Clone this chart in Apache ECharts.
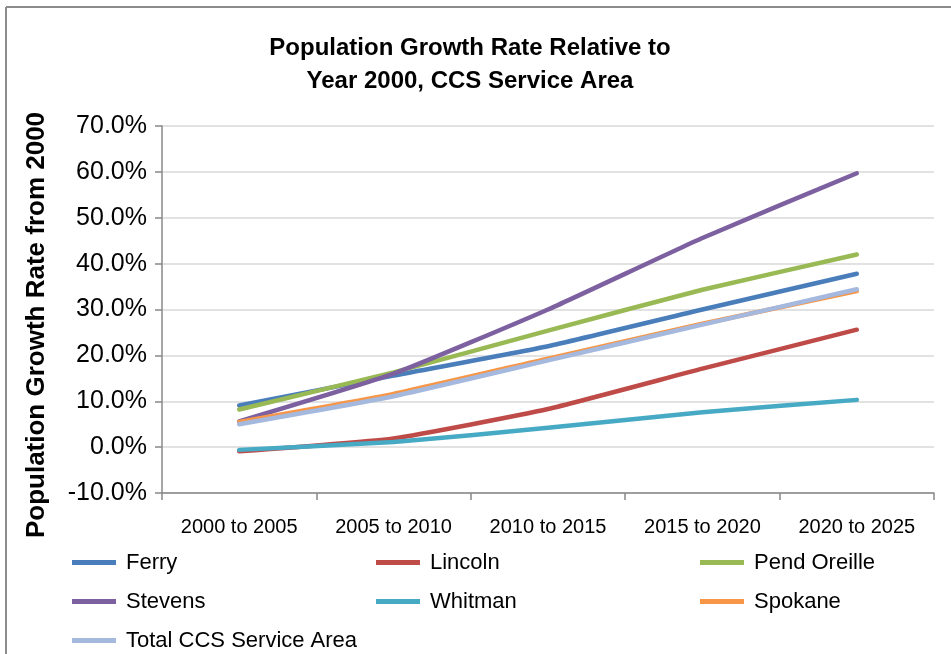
<!DOCTYPE html>
<html>
<head>
<meta charset="utf-8">
<script src="https://cdn.jsdelivr.net/npm/echarts@6/dist/echarts.min.js"></script>
<style>
  html, body { margin: 0; padding: 0; background: #ffffff; }
  #chart { width: 951px; height: 654px; }
</style>
</head>
<body>
<div id="chart"></div>
<script>
// Five-year periods on the category axis
const periods = ['2000 to 2005', '2005 to 2010', '2010 to 2015', '2015 to 2020', '2020 to 2025'];

// Cumulative growth relative to 2000, in percent
const ferry       = [9.1, 15.6, 22.0, 30.0, 37.8];
const lincoln     = [-0.9, 1.9, 8.3, 17.1, 25.6];
const pendOreille = [8.2, 16.3, 25.4, 34.3, 42.0];
const stevens     = [5.6, 16.0, 30.0, 45.6, 59.7];
const whitman     = [-0.6, 1.1, 4.2, 7.6, 10.3];
const spokane     = [5.5, 11.6, 19.3, 26.9, 34.0];
const totalCCS    = [5.0, 11.1, 18.9, 26.7, 34.4];

const yTicks = { min: -10, max: 70, step: 10 };

const FONT = '"Liberation Sans", Arial, sans-serif';

const seriesDefs = [
  { name: 'Ferry',        data: ferry,       color: '#4A7EBB', width: 4.5 },
  { name: 'Lincoln',      data: lincoln,     color: '#BE4B48', width: 4.5 },
  { name: 'Pend Oreille', data: pendOreille, color: '#98B954', width: 4.5 },
  { name: 'Stevens',      data: stevens,     color: '#7D60A0', width: 4.5 },
  { name: 'Whitman',      data: whitman,     color: '#46AAC5', width: 4.5 },
  { name: 'Spokane',      data: spokane,     color: '#F79646', width: 4.5 },
  { name: 'Total CCS Service Area', data: totalCCS, color: '#A5B8DD', width: 4.5 }
];

const legendBase = {
  orient: 'vertical',
  icon: 'rect',
  itemWidth: 44,
  itemHeight: 5,
  itemGap: 16,
  padding: 0,
  height: 140,
  textStyle: { fontFamily: FONT, fontSize: 22, color: '#000', lineHeight: 23, padding: [0, 0, 0, 5] },
  top: 551
};

const chart = echarts.init(document.getElementById('chart'), null, { renderer: 'canvas' });

chart.setOption({
  animation: false,
  backgroundColor: '#ffffff',
  title: {
    text: 'Population Growth Rate Relative to\nYear 2000, CCS Service Area',
    left: 465,
    top: 27,
    textAlign: 'center',
    textStyle: { fontFamily: FONT, fontSize: 24, fontWeight: 'bold', color: '#000', lineHeight: 33 }
  },
  grid: { left: 162, right: 17, top: 126, bottom: 161, containLabel: false },
  xAxis: {
    type: 'category',
    data: periods,
    boundaryGap: true,
    axisLine: { onZero: false, lineStyle: { color: '#888888', width: 1.5 } },
    axisTick: { show: true, length: 7, lineStyle: { color: '#888888', width: 1.5 } },
    axisLabel: { fontFamily: FONT, fontSize: 20, color: '#000', margin: 24 },
    splitLine: { show: false }
  },
  yAxis: {
    type: 'value',
    min: yTicks.min,
    max: yTicks.max,
    interval: yTicks.step,
    axisLine: { show: true, lineStyle: { color: '#888888', width: 1.5 } },
    axisTick: { show: true, length: 7, lineStyle: { color: '#888888', width: 1.5 } },
    axisLabel: {
      fontFamily: FONT, fontSize: 25, color: '#000', margin: 15,
      formatter: v => v.toFixed(1) + '%'
    },
    splitLine: { show: true, lineStyle: { color: '#D9D9D9', width: 1.5 } }
  },
  legend: [
    Object.assign({}, legendBase, { left: 72,  data: ['Ferry', 'Stevens', 'Total CCS Service Area'] }),
    Object.assign({}, legendBase, { left: 376, data: ['Lincoln', 'Whitman'] }),
    Object.assign({}, legendBase, { left: 700, data: ['Pend Oreille', 'Spokane'] })
  ],
  graphic: [
    { type: 'line', shape: { x1: 6, y1: 7, x2: 951, y2: 7 }, style: { stroke: '#8C8C8C', lineWidth: 2 } },
    { type: 'line', shape: { x1: 6, y1: 7, x2: 6, y2: 654 }, style: { stroke: '#8C8C8C', lineWidth: 2 } },
    {
      type: 'text',
      x: 37, y: 325,
      rotation: Math.PI / 2,
      style: {
        text: 'Population Growth Rate from 2000',
        fontFamily: FONT, fontSize: 26, fontWeight: 'bold', fill: '#000',
        align: 'center', verticalAlign: 'middle'
      }
    }
  ],
  series: seriesDefs.map(s => ({
    name: s.name,
    type: 'line',
    data: s.data,
    smooth: 0.15,
    showSymbol: false,
    symbol: 'none',
    color: s.color,
    lineStyle: { color: s.color, width: s.width, cap: 'round', join: 'round' },
    itemStyle: { color: s.color }
  }))
});
</script>
</body>
</html>
